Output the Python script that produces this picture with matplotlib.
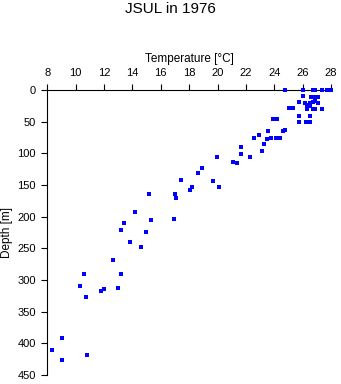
import matplotlib
matplotlib.use("Agg")
import matplotlib.pyplot as plt

# temperature [degC] and depth [m]
temperature = [
    24.76, 26.05, 26.70, 26.88, 27.39, 27.70, 27.98,
    26.05, 26.58, 26.85, 27.10,
    25.77, 26.20, 26.29, 26.53, 26.53, 26.70, 26.88, 27.11,
    25.07, 25.35, 26.34, 26.72, 26.88, 27.35,
    25.77, 26.53, 23.90, 24.22,
    25.77, 26.22, 26.53,
    24.78, 24.60, 23.59,
    22.95, 22.60, 23.51, 23.75, 24.10, 24.43, 23.30,
    21.68, 23.16, 21.68, 19.94, 22.32, 21.07, 21.38,
    18.89, 18.65, 17.41, 19.71, 20.13, 18.20, 18.08,
    15.19, 17.03, 17.10,
    14.18, 16.96, 15.33, 13.39, 13.22, 14.96, 13.85, 14.63,
    12.61, 10.61, 13.22, 10.33, 13.01, 12.02, 11.81, 10.75,
    9.06, 8.35, 10.78, 9.06,
]
depth = [
    0, 0, 0, 0, 0, 0, 0,
    9.5, 10.5, 10.5, 10.5,
    19, 21, 24, 21, 25, 19, 17, 21,
    29, 28, 30, 30, 30, 30,
    41, 41, 46, 46,
    51, 51, 51,
    63, 65, 65,
    71.5, 76, 78, 76, 76, 76, 85,
    90, 96, 101, 106, 106, 113, 116,
    123.5, 131, 142, 144, 153, 153.5, 158,
    163.5, 163.5, 171,
    192, 204, 206, 210, 221, 224, 240, 248,
    269, 291, 291, 310, 313, 314, 318, 327,
    391, 410, 418.5, 426,
]

plt.rcParams['font.family'] = ['Liberation Sans', 'DejaVu Sans']

W, H = 341, 384
fig = plt.figure(figsize=(W / 100, H / 100), dpi=100)
ax = fig.add_axes([47.3 / W, 1 - 375 / H, (331 - 47.3) / W, (375 - 90) / H])

ax.plot(temperature, depth, linestyle='none', marker='s', markersize=2.3,
        markeredgewidth=0, color='#0000ff', clip_on=False, zorder=3)

ax.set_xlim(8, 28)
ax.set_ylim(450, 0)
ax.set_xticks(range(8, 29, 2))
ax.set_yticks(range(0, 451, 50))

ax.xaxis.tick_top()
ax.xaxis.set_label_position('top')
for side in ['right', 'bottom']:
    ax.spines[side].set_visible(False)
for side in ['top', 'left']:
    ax.spines[side].set_linewidth(0.8)
ax.tick_params(axis='both', length=4.3, width=0.8, pad=4, labelsize=8)

ax.set_xlabel('Temperature [°C]', fontsize=8.5, labelpad=5)
ax.set_ylabel('Depth [m]', fontsize=8.5, labelpad=3)

fig.text(0.5, 1 - 9 / H, 'JSUL in 1976', ha='center', va='center', fontsize=11)

fig.savefig('out.png', dpi=100)
